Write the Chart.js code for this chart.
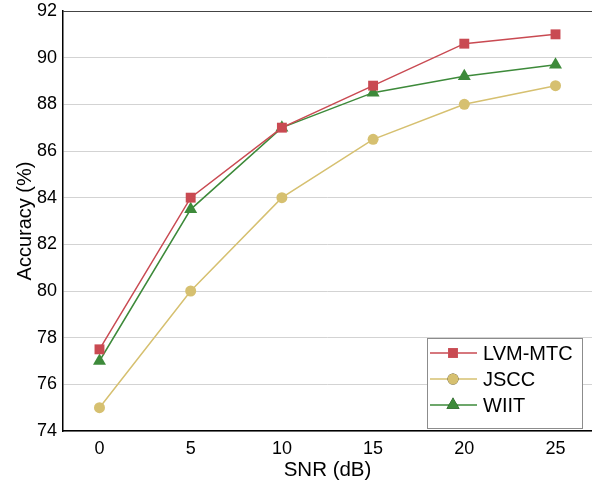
<!DOCTYPE html>
<html>
<head>
<meta charset="utf-8">
<script src="https://cdn.jsdelivr.net/npm/chart.js@4"></script>
<style>
  html, body { margin: 0; padding: 0; background: #fff; overflow: hidden; }
  canvas { display: block; }
</style>
</head>
<body>
<canvas id="accChart" width="592" height="487"></canvas>
<script>
// values
const snr = [0, 5, 10, 15, 20, 25];
const lvmMtc = [77.5, 84, 87, 88.8, 90.6, 91];
const jscc = [75, 80, 84, 86.5, 88, 88.8];
const wiit = [77, 83.5, 87, 88.5, 89.2, 89.7];
const xTicks = [0, 5, 10, 15, 20, 25];
const yTicks = [74, 76, 78, 80, 82, 84, 86, 88, 90, 92];

const FONT = "'Liberation Sans', Arial, sans-serif";

function pts(ys) {
    return snr.map((x, i) => ({ x: x, y: ys[i] }));
}

// legend box drawn inside the plot, lower right
const insideLegend = {
    id: 'insideLegend',
    afterDraw(chart) {
        const ctx = chart.ctx;
        const x0 = 427, y0 = 338, w = 155, h = 90;
        ctx.save();
        ctx.fillStyle = '#fff';
        ctx.fillRect(x0, y0, w, h);
        ctx.strokeStyle = '#8c8c8c';
        ctx.lineWidth = 1;
        ctx.strokeRect(x0 + 0.5, y0 + 0.5, w, h);
        chart.data.datasets.forEach((ds, i) => {
            const cy = y0 + 15 + i * 26;
            ctx.strokeStyle = ds.borderColor;
            ctx.lineWidth = ds.borderWidth;
            ctx.beginPath();
            ctx.moveTo(x0 + 3, cy);
            ctx.lineTo(x0 + 50, cy);
            ctx.stroke();
            Chart.helpers.drawPoint(ctx, {
                pointStyle: ds.pointStyle,
                radius: ds.pointRadius,
                borderWidth: 0
            }, x0 + 26, cy);
            ctx.fillStyle = ds.pointBackgroundColor;
            ctx.fill();
            ctx.fillStyle = '#000';
            ctx.font = '20px ' + FONT;
            ctx.textBaseline = 'middle';
            ctx.textAlign = 'left';
            ctx.fillText(ds.label, x0 + 56, cy + 1);
        });
        ctx.restore();
    }
};

// dark frame line along the top of the plot
const topBorder = {
    id: 'topBorder',
    afterDraw(chart) {
        const a = chart.chartArea, ctx = chart.ctx;
        ctx.save();
        ctx.strokeStyle = '#444';
        ctx.lineWidth = 1.2;
        ctx.beginPath();
        ctx.moveTo(a.left, a.top + 0.5);
        ctx.lineTo(chart.width, a.top + 0.5);
        ctx.stroke();
        ctx.restore();
    }
};

function series(label, data, color, style, r) {
    return {
        label: label,
        data: pts(data),
        borderColor: color,
        backgroundColor: color,
        pointBackgroundColor: color,
        pointBorderColor: color,
        pointBorderWidth: 0,
        pointStyle: style,
        pointRadius: r,
        pointHoverRadius: r,
        borderWidth: 1.5,
        tension: 0
    };
}

new Chart(document.getElementById('accChart'), {
    type: 'line',
    data: {
        datasets: [
            series('LVM-MTC', lvmMtc, '#c94a52', 'rect', 7),
            series('JSCC', jscc, '#d6c070', 'circle', 5.5),
            series('WIIT', wiit, '#3d8a3a', 'triangle', 7.5)
        ]
    },
    options: {
        responsive: false,
        animation: false,
        layout: { autoPadding: false, padding: { top: 11, right: 0, left: 0, bottom: 0 } },
        plugins: {
            legend: { display: false },
            tooltip: { enabled: false }
        },
        scales: {
            x: {
                type: 'linear',
                min: -2,
                max: 27,
                afterBuildTicks: s => { s.ticks = xTicks.map(v => ({ value: v })); },
                afterFit: s => { s.height = 56; s.paddingLeft = 0; s.paddingRight = 0; },
                grid: { display: false, drawTicks: false },
                border: { color: '#000', width: 1.5 },
                ticks: { color: '#000', font: { family: FONT, size: 18 }, padding: 7 },
                title: {
                    display: true,
                    text: 'SNR (dB)',
                    color: '#000',
                    font: { family: FONT, size: 20.5 },
                    padding: { top: 3 }
                }
            },
            y: {
                min: 74,
                max: 92,
                afterBuildTicks: s => { s.ticks = yTicks.map(v => ({ value: v })); },
                afterFit: s => { s.width = 63; s.paddingTop = 0; s.paddingBottom = 0; },
                grid: { color: '#d3d3d3', lineWidth: 1, drawTicks: false },
                border: { color: '#000', width: 1.5 },
                ticks: { color: '#000', font: { family: FONT, size: 18 }, padding: 6 },
                title: {
                    display: true,
                    text: 'Accuracy (%)',
                    color: '#000',
                    font: { family: FONT, size: 20 },
                    padding: { top: 13, bottom: 0 }
                }
            }
        }
    },
    plugins: [insideLegend, topBorder]
});
</script>
</body>
</html>
